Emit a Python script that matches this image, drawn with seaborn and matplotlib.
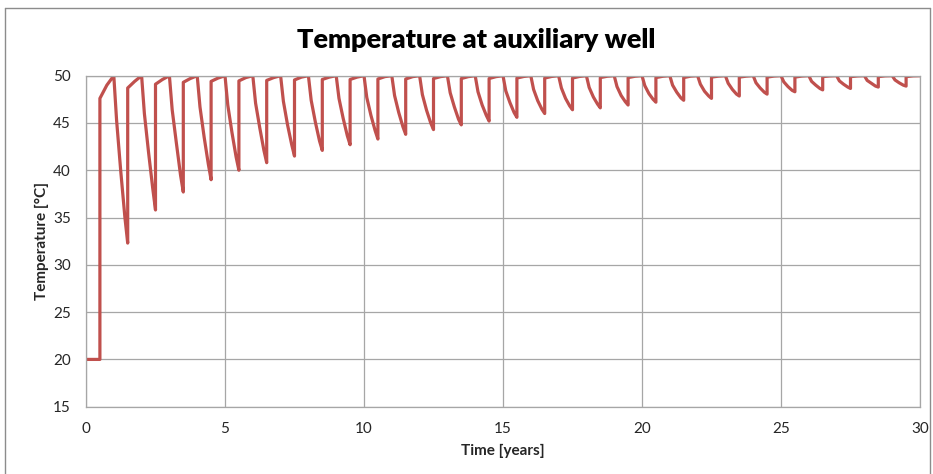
import numpy as np
import pandas as pd
import matplotlib
matplotlib.use("Agg")
import matplotlib.pyplot as plt
import seaborn as sns
from matplotlib.lines import Line2D

# ---- data ----
start_time = [0.0, 0.5]
start_temp = [20.0, 20.0]
peak_temp = 50.0

# temperatures during each draw-down (years 1..29): at +0.1, +0.25, +0.4 and the minimum at +0.5
drop_q1 = [45.3, 46.0, 46.4, 46.7, 46.9, 47.1, 47.3, 47.4, 47.6, 47.7,
           47.9, 48.0, 48.2, 48.3, 48.4, 48.55, 48.7, 48.75, 48.85, 48.95,
           49.0, 49.1, 49.2, 49.25, 49.35, 49.4, 49.45, 49.5, 49.55]
drop_mid = [39.9, 41.9, 42.9, 43.5, 44.0, 44.5, 44.8, 45.1, 45.5, 45.8,
            46.1, 46.35, 46.7, 46.9, 47.15, 47.35, 47.6, 47.75, 47.9, 48.1,
            48.25, 48.35, 48.55, 48.7, 48.85, 49.0, 49.1, 49.2, 49.25]
drop_q3 = [35.0, 38.1, 39.5, 40.65, 41.4, 42.1, 42.7, 43.1, 43.65, 44.2,
           44.6, 45.0, 45.4, 45.8, 46.1, 46.45, 46.8, 47.0, 47.25, 47.5,
           47.65, 47.85, 48.05, 48.25, 48.45, 48.65, 48.8, 48.9, 49.0]
cycle_min = [32.3, 35.8, 37.7, 39.0, 40.0, 40.8, 41.5, 42.1, 42.7, 43.3,
             43.8, 44.3, 44.8, 45.2, 45.6, 46.0, 46.4, 46.6, 46.9, 47.2,
             47.4, 47.6, 47.85, 48.05, 48.3, 48.5, 48.65, 48.8, 48.9]

# recovery after each switch (years 0..29): value right after the jump and at +0.75
jump_top = [47.6, 48.7, 49.1, 49.3, 49.4, 49.45, 49.5, 49.55, 49.6, 49.6,
            49.65, 49.65, 49.7, 49.7, 49.7, 49.75, 49.75, 49.75, 49.8, 49.8,
            49.8, 49.8, 49.85, 49.85, 49.85, 49.85, 49.9, 49.9, 49.9, 49.9]
recover_mid = [49.0, 49.4, 49.6, 49.7, 49.75, 49.8, 49.8, 49.85, 49.85, 49.85,
               49.9, 49.9, 49.9, 49.9, 49.9, 49.92, 49.92, 49.92, 49.94, 49.94,
               49.94, 49.95, 49.95, 49.95, 49.96, 49.96, 49.97, 49.97, 49.98, 49.98]

x_ticks = [0, 5, 10, 15, 20, 25, 30]
y_ticks = [15, 20, 25, 30, 35, 40, 45, 50]

# assemble the series in time order
t = list(start_time)
T = list(start_temp)
t += [0.5, 0.75, 1.0]
T += [jump_top[0], recover_mid[0], peak_temp]
for k in range(1, 30):
    i = k - 1
    t += [k + 0.1, k + 0.25, k + 0.4, k + 0.5, k + 0.5, k + 0.75, k + 1.0]
    T += [drop_q1[i], drop_mid[i], drop_q3[i], cycle_min[i],
          jump_top[k], recover_mid[k], peak_temp]
df = pd.DataFrame({"time": t, "temp": T})

# ---- plot ----
sns.set_theme(style="white")
plt.rcParams["font.family"] = ["Lato", "DejaVu Sans"]

fig = plt.figure(figsize=(9.33, 4.74), dpi=100)
ax = fig.add_axes([86 / 933, 1 - 406.7 / 474, (920 - 86) / 933, (406.7 - 75.7) / 474])

grid_c = "#a6a6a6"
sns.lineplot(data=df, x="time", y="temp", sort=False, estimator=None,
             color="#c0504d", linewidth=2.3, ax=ax)

ax.set_xlim(0, 30)
ax.set_ylim(15, 50)
ax.set_xticks(x_ticks)
ax.set_yticks(y_ticks)
ax.grid(True, color=grid_c, linewidth=0.9)
ax.set_axisbelow(True)
for s in ax.spines.values():
    s.set_color(grid_c)
    s.set_linewidth(0.9)
ax.tick_params(axis="both", direction="out", length=5, width=0.9, color=grid_c,
               labelsize=11, labelcolor="#262626", pad=6)
ax.tick_params(axis="x", pad=6)

ax.set_xlabel("Time [years]", fontsize=11, fontweight="bold", labelpad=6)
ax.set_ylabel("Temperature [°C]", fontsize=11, fontweight="bold", labelpad=3)

fig.text(476 / 933, 1 - 40 / 474, "Temperature at auxiliary well",
         ha="center", va="center", fontsize=19.5, fontweight="heavy", color="black")

# chart-area border
border = "#8c8c8c"
fig.add_artist(Line2D([5 / 933, 5 / 933], [0, 1 - 8 / 474], transform=fig.transFigure, color=border, lw=1))
fig.add_artist(Line2D([5 / 933, 930 / 933], [1 - 8 / 474, 1 - 8 / 474], transform=fig.transFigure, color=border, lw=1))
fig.add_artist(Line2D([930 / 933, 930 / 933], [0, 1 - 8 / 474], transform=fig.transFigure, color=border, lw=1))

fig.savefig("out.png", dpi=100)
